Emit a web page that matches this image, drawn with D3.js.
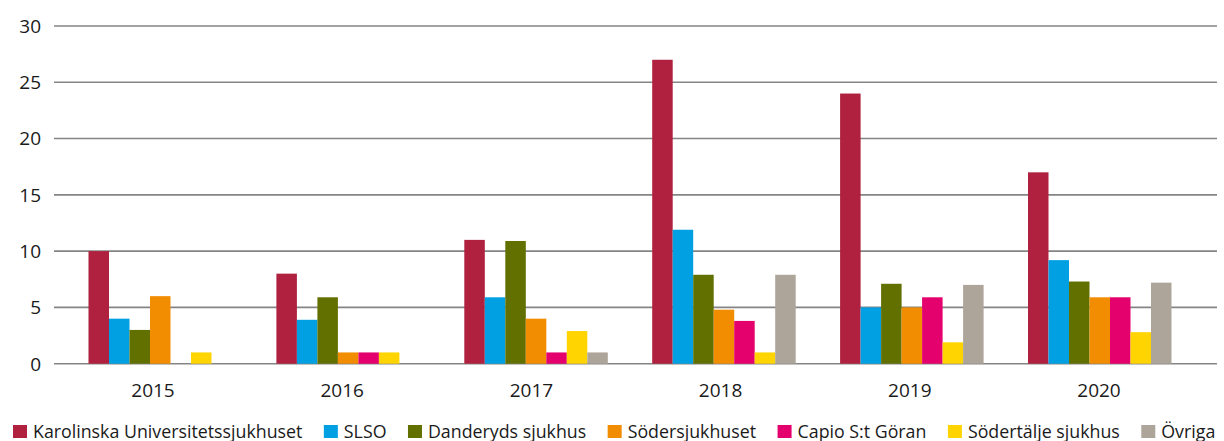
<!DOCTYPE html>
<html>
<head>
<meta charset="utf-8">
<script src="https://cdn.jsdelivr.net/npm/d3@7"></script>
<style>
  body { margin: 0; background: #fff; }
  text { font-family: "Open Sans", "Noto Sans", sans-serif; fill: #1a1a1a; }
</style>
</head>
<body>
<svg id="chart"></svg>
<script>
var years = ["2015", "2016", "2017", "2018", "2019", "2020"];
var seriesNames = ["Karolinska Universitetssjukhuset", "SLSO", "Danderyds sjukhus",
                   "Södersjukhuset", "Capio S:t Göran", "Södertälje sjukhus", "Övriga"];
var seriesColors = ["#b0213f", "#00a0e2", "#627000", "#f28c00", "#e4006d", "#ffd400", "#ada59a"];

// one array per hospital, values per year 2015..2020
var karolinska = [10, 8, 11, 27, 24, 17];
var slso       = [4, 3.9, 5.9, 11.9, 5, 9.2];
var danderyd   = [3, 5.9, 10.9, 7.9, 7.1, 7.3];
var soder      = [6, 1, 4, 4.8, 5, 5.9];
var capio      = [0, 1, 1, 3.8, 5.9, 5.9];
var sodertalje = [1, 1, 2.9, 1, 1.9, 2.8];
var ovriga     = [0, 0, 1, 7.9, 7, 7.2];
var yTicks = [0, 5, 10, 15, 20, 25, 30];

var allSeries = [karolinska, slso, danderyd, soder, capio, sodertalje, ovriga];

var width = 1224, height = 441;
var svg = d3.select("#chart").attr("width", width).attr("height", height);

var gridLeft = 54, gridRight = 1217;
var y = d3.scaleLinear().domain([0, 30]).range([363.7, 26]);

// bar groups and year labels (labels sit a bit off the group centres in the original)
var x = d3.scaleBand().domain(years).range([71.5, 71.5 + 6 * 187.9]);
var xs = d3.scaleBand().domain(seriesNames).range([17, 17 + 7 * 20.5]);
var xLabel = d3.scalePoint().domain(years).range([153, 1099]);

// gridlines
svg.append("g").selectAll("line")
   .data(yTicks)
   .enter()
   .append("line")
   .attr("x1", gridLeft)
   .attr("x2", gridRight)
   .attr("y1", function(d) { return y(d); })
   .attr("y2", function(d) { return y(d); })
   .attr("stroke", "#858585")
   .attr("stroke-width", 1.6);

// y labels
svg.append("g").selectAll("text")
   .data(yTicks)
   .enter()
   .append("text")
   .attr("x", 41)
   .attr("y", function(d) { return y(d); })
   .attr("dy", "0.36em")
   .attr("text-anchor", "end")
   .style("font-size", "19px")
   .text(function(d) { return d; });

// bars
var groups = svg.append("g").selectAll("g")
   .data(years)
   .enter()
   .append("g")
   .attr("transform", function(d) { return "translate(" + x(d) + ",0)"; });

groups.selectAll("rect")
   .data(function(yr, i) {
       return seriesNames.map(function(s, j) { return { name: s, value: allSeries[j][i], color: seriesColors[j] }; });
   })
   .enter()
   .append("rect")
   .attr("x", function(d) { return xs(d.name); })
   .attr("width", xs.bandwidth())
   .attr("y", function(d) { return y(d.value); })
   .attr("height", function(d) { return y(0) - y(d.value); })
   .attr("fill", function(d) { return d.color; });

// x labels
svg.append("g").selectAll("text")
   .data(years)
   .enter()
   .append("text")
   .attr("x", function(d) { return xLabel(d); })
   .attr("y", 396.5)
   .attr("text-anchor", "middle")
   .style("font-size", "19px")
   .text(function(d) { return d; });

// legend, flowed left to right
var legend = svg.append("g");
var lx = 13;
seriesNames.forEach(function(name, i) {
    legend.append("rect")
          .attr("x", lx)
          .attr("y", 425)
          .attr("width", 14)
          .attr("height", 13)
          .attr("fill", seriesColors[i]);
    var t = legend.append("text")
          .attr("x", lx + 20)
          .attr("y", 437.5)
          .style("font-size", "17.8px")
          .text(name);
    lx = lx + 20 + t.node().getComputedTextLength() + 21.5;
});
</script>
</body>
</html>
